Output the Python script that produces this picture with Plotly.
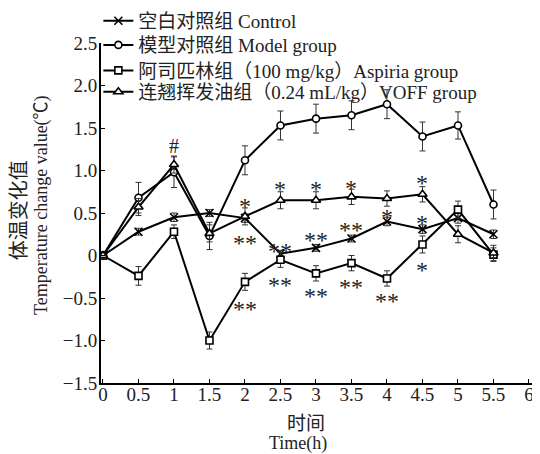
import plotly.graph_objects as go

# ---------------- data ----------------
time_h = [0, 0.5, 1, 1.5, 2, 2.5, 3, 3.5, 4, 4.5, 5, 5.5]

control = [0, 0.28, 0.45, 0.50, 0.44, 0.02, 0.09, 0.20, 0.40, 0.31, 0.44, 0.25]
control_err = [0.03, 0.04, 0.05, 0.04, 0.05, 0.04, 0.04, 0.04, 0.05, 0.05, 0.06, 0.05]

model = [0, 0.68, 0.98, 0.23, 1.12, 1.53, 1.61, 1.65, 1.78, 1.40, 1.53, 0.60]
model_err = [0.04, 0.18, 0.18, 0.16, 0.17, 0.17, 0.17, 0.17, 0.17, 0.17, 0.16, 0.17]

aspirin = [0, -0.24, 0.28, -1.00, -0.31, -0.05, -0.21, -0.09, -0.27, 0.13, 0.54, 0.01]
aspirin_err = [0.03, 0.11, 0.08, 0.10, 0.10, 0.09, 0.09, 0.09, 0.09, 0.10, 0.10, 0.08]

voff = [0, 0.57, 1.07, 0.26, 0.46, 0.65, 0.65, 0.69, 0.67, 0.72, 0.25, 0.03]
voff_err = [0.03, 0.10, 0.10, 0.10, 0.10, 0.10, 0.10, 0.09, 0.09, 0.09, 0.10, 0.09]

series_names = [
    "空白对照组 Control",
    "模型对照组 Model group",
    "阿司匹林组（100 mg/kg）Aspiria group",
    "连翘挥发油组（0.24 mL/kg）VOFF group",
]

# significance marks
sig_x = [1, 2, 2, 2, 2.5, 2.5, 2.5, 3, 3, 3, 3.5, 3.5, 3.5, 4, 4, 4.5, 4.5, 4.5]
sig_y = [1.29, 0.67, 0.235, -0.55, 0.86, 0.14, -0.27, 0.86, 0.26, -0.39,
         0.88, 0.38, -0.29, 0.53, -0.45, 0.94, 0.46, -0.09]
sig_text = ["#", "*", "**", "**", "*", "**", "**", "*", "**", "**",
            "*", "**", "**", "*", "**", "*", "*", "*"]

x_ticks = [0, 0.5, 1, 1.5, 2, 2.5, 3, 3.5, 4, 4.5, 5, 5.5, 6]
x_ticktext = ["0", "0.5", "1", "1.5", "2", "2.5", "3", "3.5", "4", "4.5", "5", "5.5", "6"]
y_ticks = [2.5, 2.0, 1.5, 1.0, 0.5, 0, -0.5, -1.0, -1.5]
y_ticktext = ["2.5", "2.0", "1.5", "1.0", "0.5", "0", "−0.5", "−1.0", "−1.5"]

FONT = "Liberation Serif, Noto Sans CJK SC"
INK = "#222222"

fig = go.Figure()

specs = [
    (control, control_err, "x-thin", 8, "black"),
    (model, model_err, "circle", 7, "white"),
    (aspirin, aspirin_err, "square", 7, "white"),
    (voff, voff_err, "triangle-up", 8, "white"),
]
legend_ids = ["legend", "legend2", "legend3", "legend4"]
legend_rows = [1.065, 0.994, 0.919, 0.856]

for (vals, errs, sym, size, fill), name, lid in zip(specs, series_names, legend_ids):
    fig.add_trace(go.Scatter(
        x=time_h, y=vals, name=name, mode="lines+markers", legend=lid,
        line=dict(color="black", width=2),
        marker=dict(symbol=sym, size=size, color=fill,
                    line=dict(color="black", width=1.6)),
        error_y=dict(type="data", array=errs, visible=True,
                     color="#333333", thickness=1, width=3),
    ))

annotations = []
for sx, sy, st in zip(sig_x, sig_y, sig_text):
    annotations.append(dict(
        x=sx, y=sy, xref="x", yref="y", text=st, showarrow=False,
        xanchor="center", yanchor="middle",
        font=dict(family=FONT, size=24 if st != "#" else 20, color=INK),
        yshift=-7 if st != "#" else 0,
    ))

# axis titles
annotations += [
    dict(x=-0.186, y=0.509, xref="paper", yref="paper", text="体温变化值",
         textangle=-90, showarrow=False, xanchor="center", yanchor="middle",
         font=dict(family=FONT, size=20, color=INK)),
    dict(x=-0.134, y=0.524, xref="paper", yref="paper",
         text="Temperature change value(℃)", textangle=-90, showarrow=False,
         xanchor="center", yanchor="middle",
         font=dict(family=FONT, size=18, color=INK)),
    dict(x=0.467, y=-0.118, xref="paper", yref="paper", text="时间",
         showarrow=False, xanchor="center", yanchor="middle",
         font=dict(family=FONT, size=19, color=INK)),
    dict(x=0.449, y=-0.177, xref="paper", yref="paper", text="Time(h)",
         showarrow=False, xanchor="center", yanchor="middle",
         font=dict(family=FONT, size=18, color=INK)),
]

legend_common = dict(x=-0.006, xanchor="left", yanchor="middle",
                     bgcolor="rgba(0,0,0,0)",
                     font=dict(family=FONT, size=19, color=INK),
                     itemwidth=30, tracegroupgap=0)

# page body has an 8px default margin: size/margins compensate for it
fig.update_layout(
    template="none",
    width=532, height=446, autosize=False,
    margin=dict(l=93, r=0, t=35, b=71, pad=0, autoexpand=False),
    paper_bgcolor="white", plot_bgcolor="white",
    font=dict(family=FONT, size=19, color=INK),
    showlegend=True,
    legend=dict(y=legend_rows[0], **legend_common),
    legend2=dict(y=legend_rows[1], **legend_common),
    legend3=dict(y=legend_rows[2], **legend_common),
    legend4=dict(y=legend_rows[3], **legend_common),
    annotations=annotations,
    xaxis=dict(range=[-0.028, 6.155], tickvals=x_ticks, ticktext=x_ticktext,
               ticks="inside", ticklen=4, tickcolor="black", tickwidth=1,
               showline=True, linecolor="black", linewidth=2,
               showgrid=False, zeroline=False, automargin=False,
               ticklabelstandoff=-7,
               tickfont=dict(family=FONT, size=19, color=INK)),
    yaxis=dict(range=[-1.5, 2.5], tickvals=y_ticks, ticktext=y_ticktext,
               ticks="inside", ticklen=4, tickcolor="black", tickwidth=1,
               showline=True, linecolor="black", linewidth=2,
               showgrid=False, zeroline=False, automargin=False,
               ticklabelstandoff=-2,
               tickfont=dict(family=FONT, size=19, color=INK)),
)

fig.write_html("out.html")
